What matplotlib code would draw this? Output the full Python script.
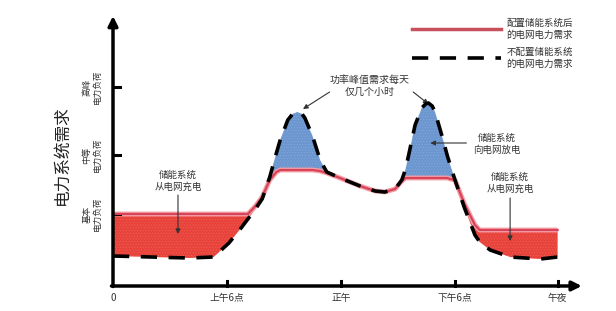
import matplotlib.pyplot as plt
import numpy as np

plt.rcParams["font.family"] = ["Noto Sans CJK SC", "DejaVu Sans"]
plt.rcParams["hatch.linewidth"] = 0.4

# hours of the day, shared by both curves
hours = [0, 2, 4, 5.3, 6.1, 6.7, 7.1, 7.5, 7.85, 8.25, 8.6, 8.8, 9.2, 9.45,
         9.7, 9.95, 10.1, 10.5, 10.9, 11.25, 11.95, 13.0, 13.8, 14.3, 14.85,
         15.2, 15.4, 15.55, 15.9, 16.25, 16.45, 16.6, 16.8, 16.95, 17.3,
         17.6, 17.75, 18.0, 18.5, 19.05, 19.3, 19.85, 20.9, 22.5, 23.4]
# demand without storage (dashed)
demand_raw = [30, 29, 28, 29, 43, 57, 67, 77, 87, 109, 133, 146, 166, 172,
              174, 172, 168, 150, 126, 114, 108, 100, 95, 94, 97,
              106, 117, 130, 161, 178, 182, 183, 180, 174, 151,
              130, 121, 106, 78, 51, 44, 36, 29, 27, 29]
# demand with storage (red)
demand_storage = [72, 72, 72, 72, 72, 72, 72, 80, 89, 106, 114, 116, 116, 116,
                  116, 116, 116, 116, 115, 113, 108, 100, 95, 94, 97,
                  105, 108, 108, 108, 108, 108, 108, 108, 108, 108,
                  108, 107, 106, 82, 61, 56, 56, 56, 56, 56]

tick_pos = [0, 6, 12, 18, 23.4]
tick_labels = ["0", "上午6点", "正午", "下午6点", "午夜"]
level_pos = [72, 131, 199]
level_labels = ["基本\n电力负荷", "中等\n电力负荷", "高峰\n电力负荷"]

h = np.array(hours)
raw = np.array(demand_raw)
sto = np.array(demand_storage)

fig = plt.figure(figsize=(6.16, 3.11), dpi=100)
ax = fig.add_axes([113 / 616, 25 / 311, 465 / 616, 268 / 311])
ax.set_xlim(0, 465 / 19.0)
ax.set_ylim(0, 268)
for s in ax.spines.values():
    s.set_visible(False)
ax.set_xticks([])
ax.set_yticks([])

red_fill = "#e8433b"
blue_fill = "#6b96cf"
ax.fill_between(h, raw, sto, where=sto >= raw, interpolate=True,
                facecolor=red_fill, edgecolor="#ee5f58", hatch="......",
                linewidth=0, zorder=1)
ax.fill_between(h, raw, sto, where=raw > sto, interpolate=True,
                facecolor=blue_fill, edgecolor="#86a9d8", hatch="......",
                linewidth=0, zorder=1)

ax.plot(h, sto, color="#f4a0a8", lw=3.5, zorder=2, solid_capstyle="butt")
ax.plot(h, sto, color="#d9435a", lw=1.6, zorder=3)
ax.plot(h, raw, color="black", lw=2.6, dashes=(4.5, 3.2), zorder=4)

# axes with arrows
ax.annotate("", xy=(0, 270), xytext=(0, -0.5),
            arrowprops=dict(arrowstyle="-|>", color="black", lw=2.5,
                            mutation_scale=14, shrinkA=0, shrinkB=0),
            annotation_clip=False)
ax.annotate("", xy=(465 / 19.0 + 0.2, 0), xytext=(-0.08, 0),
            arrowprops=dict(arrowstyle="-|>", color="black", lw=2.5,
                            mutation_scale=14, shrinkA=0, shrinkB=0),
            annotation_clip=False)

for t, lab in zip(tick_pos, tick_labels):
    if t > 0:
        ax.plot([t, t], [0, 5], color="black", lw=2.2, clip_on=False)
    ax.text(t, -12, lab, ha="center", va="center", fontsize=7, color="#333333")

for v, lab in zip(level_pos, level_labels):
    ax.plot([0, 0.35], [v, v], color="black", lw=2.2, clip_on=False)
    ax.text(-1.1, v, lab, ha="center", va="center", rotation=90,
            fontsize=6.2, color="#333333", linespacing=1.25)

ax.text(-2.7, 131, "电力系统需求", rotation=90, ha="center", va="center",
        fontsize=12, color="#222222")

arrow_kw = dict(arrowstyle="-|>", color="#333333", lw=0.8, mutation_scale=7,
                shrinkA=0, shrinkB=0)
txt_kw = dict(ha="center", va="center", fontsize=6.8, color="#333333",
              linespacing=1.3)

ax.text(3.42, 105, "储能系统\n从电网充电", **txt_kw)
ax.annotate("", xy=(3.42, 52), xytext=(3.42, 91), arrowprops=arrow_kw)

ax.text(20.9, 103, "储能系统\n从电网充电", **txt_kw)
ax.annotate("", xy=(20.9, 45), xytext=(20.9, 88), arrowprops=arrow_kw)

ax.text(13.5, 200, "功率峰值需求每天\n仅几个小时", ha="center", va="center",
        fontsize=7.2, color="#333333", linespacing=1.3)
ax.annotate("", xy=(10.0, 177), xytext=(11.4, 194), arrowprops=arrow_kw)
ax.annotate("", xy=(16.6, 182), xytext=(15.8, 194), arrowprops=arrow_kw)

ax.text(20.2, 142, "储能系统\n向电网放电", **txt_kw)
ax.annotate("", xy=(16.7, 143), xytext=(18.6, 143), arrowprops=arrow_kw)

# legend
ax.plot([15.75, 20.4], [257, 257], color="#c8505a", lw=2.5, clip_on=False)
ax.plot([15.75, 20.4], [228, 228], color="black", lw=2.6, dashes=(4.5, 3.2),
        clip_on=False)
leg_kw = dict(ha="left", va="center", fontsize=6.8, color="#333333",
              linespacing=1.3)
ax.text(20.7, 257, "配置储能系统后\n的电网电力需求", **leg_kw)
ax.text(20.7, 228, "不配置储能系统\n的电网电力需求", **leg_kw)

fig.savefig("out.png", dpi=100)
